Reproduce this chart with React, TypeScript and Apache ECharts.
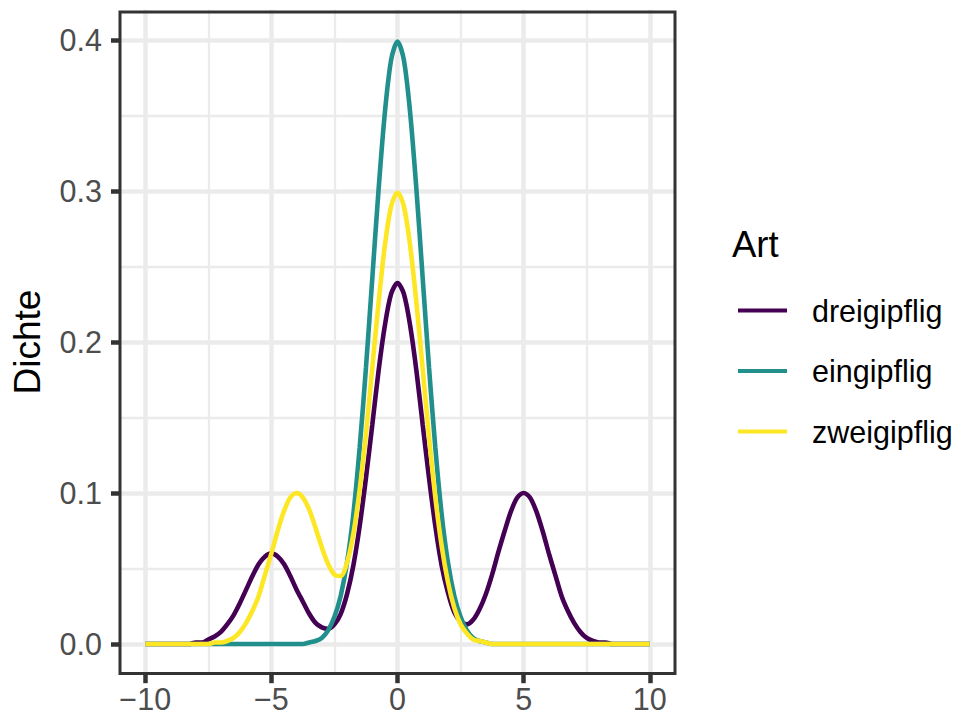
import React, { useEffect, useRef } from "react";
import * as echarts from "echarts";

const xGrid = [
  -10, -9.75, -9.5, -9.25, -9, -8.75, -8.5, -8.25, -8, -7.75, -7.5, -7.25, -7,
  -6.75, -6.5, -6.25, -6, -5.75, -5.5, -5.25, -5, -4.75, -4.5, -4.25, -4, -3.75,
  -3.5, -3.25, -3, -2.75, -2.5, -2.25, -2, -1.75, -1.5, -1.25, -1, -0.75, -0.5,
  -0.25, 0, 0.25, 0.5, 0.75, 1, 1.25, 1.5, 1.75, 2, 2.25, 2.5, 2.75, 3, 3.25, 3.5,
  3.75, 4, 4.25, 4.5, 4.75, 5, 5.25, 5.5, 5.75, 6, 6.25, 6.5, 6.75, 7, 7.25, 7.5,
  7.75, 8, 8.25, 8.5, 8.75, 9, 9.25, 9.5, 9.75, 10,
];

const dreigipflig = [
  0, 0, 0, 0, 0,
  0, 0, 0, 0.001,
  0.001, 0.003, 0.005, 0.008,
  0.013, 0.019, 0.027, 0.036,
  0.045, 0.053, 0.058, 0.06,
  0.058, 0.053, 0.045, 0.036,
  0.028, 0.02, 0.014, 0.011,
  0.01, 0.013, 0.02, 0.033,
  0.052, 0.078, 0.11, 0.145,
  0.181, 0.211, 0.232, 0.239,
  0.232, 0.211, 0.181, 0.145,
  0.11, 0.078, 0.052, 0.034,
  0.021, 0.015, 0.013, 0.016,
  0.023, 0.033, 0.046, 0.061,
  0.075, 0.088, 0.097, 0.1,
  0.097, 0.088, 0.075, 0.06,
  0.046, 0.032, 0.022, 0.014,
  0.008, 0.004, 0.002, 0.001,
  0.001, 0, 0, 0,
  0, 0, 0, 0,
];

const eingipflig = [
  0, 0, 0, 0, 0,
  0, 0, 0, 0,
  0, 0, 0, 0,
  0, 0, 0, 0,
  0, 0, 0, 0,
  0, 0, 0, 0,
  0, 0.001, 0.002, 0.004,
  0.009, 0.018, 0.032, 0.054,
  0.086, 0.13, 0.183, 0.242,
  0.301, 0.352, 0.387, 0.399,
  0.387, 0.352, 0.301, 0.242,
  0.183, 0.13, 0.086, 0.054,
  0.032, 0.018, 0.009, 0.004,
  0.002, 0.001, 0, 0,
  0, 0, 0, 0,
  0, 0, 0, 0,
  0, 0, 0, 0,
  0, 0, 0, 0,
  0, 0, 0, 0,
  0, 0, 0, 0,
];

const zweigipflig = [
  0, 0, 0, 0, 0,
  0, 0, 0, 0,
  0, 0, 0.001, 0.001,
  0.002, 0.004, 0.008, 0.014,
  0.022, 0.032, 0.046, 0.06,
  0.075, 0.088, 0.097, 0.1,
  0.097, 0.089, 0.077, 0.064,
  0.053, 0.046, 0.045, 0.054,
  0.073, 0.102, 0.139, 0.183,
  0.226, 0.264, 0.29, 0.299,
  0.29, 0.264, 0.226, 0.182,
  0.137, 0.097, 0.065, 0.041,
  0.024, 0.013, 0.007, 0.003,
  0.002, 0.001, 0, 0,
  0, 0, 0, 0,
  0, 0, 0, 0,
  0, 0, 0, 0,
  0, 0, 0, 0,
  0, 0, 0, 0,
  0, 0, 0, 0,
];

const seriesNames = ["dreigipflig", "eingipflig", "zweigipflig"];
const seriesValues = [dreigipflig, eingipflig, zweigipflig];
const seriesColors = ["#440154", "#21908C", "#FDE725"];

const xTicks = [-10, -5, 0, 5, 10];
const xMinor = [-7.5, -2.5, 2.5, 7.5];
const yTicks = [0, 0.1, 0.2, 0.3, 0.4];
const yMinor = [0.05, 0.15, 0.25, 0.35];

const legendTitle = "Art";
const yTitle = "Dichte";

const FONT = "'Liberation Sans', Arial, sans-serif";

export default function App() {
  const ref = useRef<HTMLDivElement>(null);

  useEffect(() => {
    if (!ref.current) return;
    const chart = echarts.init(ref.current, undefined, { renderer: "svg" });

    const gridLineSeries = (name: string, xs: number[], ys: number[], width: number, z: number) => ({
      name,
      type: "line",
      data: [],
      z: 0,
      silent: true,
      markLine: {
        silent: true,
        z,
        symbol: ["none", "none"],
        label: { show: false },
        emphasis: { disabled: true },
        lineStyle: { color: "#EBEBEB", width, type: "solid", opacity: 1 },
        data: [
          ...xs.map((v) => ({ xAxis: v })),
          ...ys.map((v) => ({ yAxis: v })),
        ],
      },
    });

    const option: any = {
      animation: false,
      textStyle: { fontFamily: FONT },
      grid: {
        left: 120,
        right: 281,
        top: 9.8,
        bottom: 40.8,
        containLabel: false,
        outerBoundsMode: "none",
        show: false,
      },
      xAxis: {
        type: "value",
        min: -11,
        max: 11,
        interval: 1,
        axisLine: { show: false, onZero: false },
        splitLine: { show: false },
        axisTick: {
          show: true,
          length: 9,
          customValues: xTicks,
          lineStyle: { color: "#333333", width: 4.5 },
        },
        axisLabel: {
          customValues: xTicks,
          margin: 9,
          fontSize: 30.5,
          color: "#4D4D4D",
          fontFamily: FONT,
          formatter: (v: number) => (v < 0 ? "\u2212" + Math.abs(v) : String(v)),
        },
      },
      yAxis: {
        type: "value",
        min: -0.02,
        max: 0.42,
        interval: 0.02,
        axisLine: { show: false, onZero: false },
        splitLine: { show: false },
        axisTick: {
          show: true,
          length: 9,
          customValues: yTicks,
          lineStyle: { color: "#333333", width: 4.5 },
        },
        axisLabel: {
          customValues: yTicks,
          margin: 18,
          fontSize: 30.5,
          color: "#4D4D4D",
          fontFamily: FONT,
          formatter: (v: number) => v.toFixed(1),
        },
      },
      legend: {
        data: seriesNames,
        orient: "vertical",
        left: 733,
        top: 290,
        icon: "rect",
        itemWidth: 49,
        itemHeight: 4,
        itemGap: 29.5,
        selectedMode: false,
        textStyle: {
          fontSize: 30.5,
          color: "#000000",
          fontFamily: FONT,
          lineHeight: 30,
          padding: [0, 0, 0, 20],
        },
      },
      graphic: [
        {
          type: "text",
          x: 732,
          y: 244.5,
          style: {
            text: legendTitle,
            fontSize: 36.5,
            fontFamily: FONT,
            fill: "#000000",
            align: "left",
            verticalAlign: "middle",
          },
        },
        {
          type: "text",
          x: 27,
          y: 342,
          rotation: Math.PI / 2,
          style: {
            text: yTitle,
            fontSize: 37,
            fontFamily: FONT,
            fill: "#000000",
            align: "center",
            verticalAlign: "middle",
          },
        },
        {
          type: "rect",
          z: 100,
          shape: { x: 120, y: 12, width: 555, height: 661.5 },
          style: { fill: "none", stroke: "#333333", lineWidth: 3 },
        },
      ],
      series: [
        gridLineSeries("gridMinor", xMinor, yMinor, 2.3, 0),
        gridLineSeries("gridMajor", xTicks, yTicks, 4.5, 1),
        ...seriesNames.map((name, k) => ({
          name,
          type: "line",
          z: 3,
          data: xGrid.map((x, i) => [x, seriesValues[k][i]]),
          showSymbol: false,
          symbol: "none",
          smooth: 0.3,
          color: seriesColors[k],
          itemStyle: { color: seriesColors[k] },
          lineStyle: { color: seriesColors[k], width: 4.6 },
          emphasis: { disabled: true },
        })),
      ],
    };

    chart.setOption(option);
    return () => chart.dispose();
  }, []);

  return (
    <div
      ref={ref}
      style={{ position: "fixed", left: 0, top: 0, width: 956, height: 715, background: "#ffffff" }}
    />
  );
}
